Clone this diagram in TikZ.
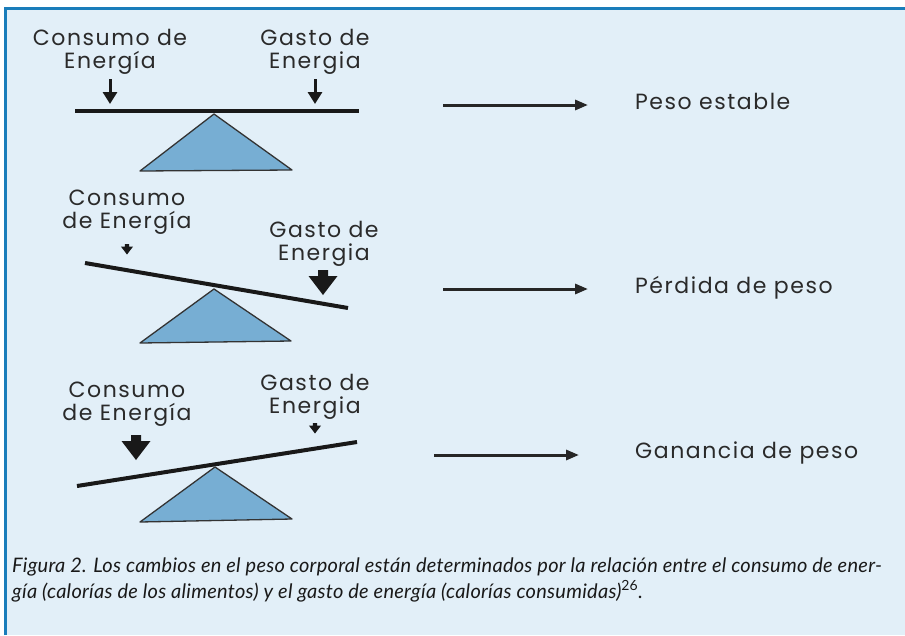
\documentclass[tikz,border=0pt]{standalone}
\usepackage{fontspec}
\setmainfont[LetterSpace=7]{Poppins}
\newfontfamily\piefont[LetterSpace=1.3]{Lato}
\usepackage{tikz}
\usetikzlibrary{arrows.meta, positioning}
\definecolor{fondo}{HTML}{E2EFF8}
\definecolor{marco}{HTML}{1A7DBA}
\definecolor{soporteazul}{HTML}{77AED3}
\definecolor{tinta}{HTML}{2A2A2A}
\tikzset{
  etiq/.style={anchor=base, align=center, text=tinta, inner sep=0pt,
    font=\fontsize{22}{23}\selectfont},
  resultado/.style={anchor=base west, text=tinta, inner sep=0pt,
    font=\fontsize{22}{23}\selectfont},
  viga/.style={line width=4pt, black!90},
  soporte/.style={fill=soporteazul, draw=black!80, line width=1.3pt, line join=round},
  flechita/.style={line width=3pt, black!90, -{Triangle[width=14pt,length=12pt]}},
  salida/.style={line width=3pt, black!85, -{Triangle[width=10pt,length=13pt]}},
  flechota/.pic={\fill[black!90] (-5,0) -- (5,0) -- (5,6) -- (14.5,6) -- (0,25)
    -- (-14.5,6) -- (-5,6) -- cycle;}
}

\begin{document}
\begin{tikzpicture}[x=1pt, y=-1pt]
\useasboundingbox (0,0) rectangle (905,635);
% fondo y marco
\fill[fondo] (5,8) rectangle (905,635);
\draw[marco, line width=3pt] (5.5,635) -- (5.5,8.5) -- (905,8.5);

% balanza en equilibrio
\node[etiq] (cons1) at (110,68) {Consumo de\\Energía};
\node[etiq] (gast1) at (315,68) {Gasto de\\Energia};
\coordinate (cons1a) at (110,79);
\coordinate (cons1b) at (110,104);
\coordinate (gast1a) at (315,79);
\coordinate (gast1b) at (315,104);
\draw[flechita] (cons1a) -- (cons1b);
\draw[flechita] (gast1a) -- (gast1b);
\draw[viga] (75,111) -- (359,111);
\filldraw[soporte] (214,114) -- (292,170) -- (140,171) -- cycle;
\coordinate (sal1a) at (443,105);
\coordinate (sal1b) at (588,105);
\draw[salida] (sal1a) -- (sal1b);
\node[resultado] (res1) at (635,109) {Peso estable};

% balanza inclinada a la derecha
\node[etiq] (cons2) at (127,228) {Consumo\\de Energía};
\node[etiq] (gast2) at (324,260) {Gasto de\\Energia};
\pic[scale=0.42] at (127,244) {flechota};
\pic at (323,270) {flechota};
\draw[viga] (85,263) -- (348,308);
\filldraw[soporte] (214,289) -- (291,341) -- (140,343) -- cycle;
\coordinate (sal2a) at (443,289);
\coordinate (sal2b) at (588,289);
\draw[salida] (sal2a) -- (sal2b);
\node[resultado] (res2) at (635,293) {Pérdida de peso};

% balanza inclinada a la izquierda
\node[etiq] (cons3) at (127,420) {Consumo\\de Energía};
\node[etiq] (gast3) at (315,413) {Gasto de\\Energia};
\pic at (136,435) {flechota};
\pic[scale=0.42] at (315,423) {flechota};
\draw[viga] (77,486) -- (357,442);
\filldraw[soporte] (215,467) -- (292,519) -- (140,522) -- cycle;
\coordinate (sal3a) at (434,455);
\coordinate (sal3b) at (579,455);
\draw[salida] (sal3a) -- (sal3b);
\node[resultado] (res3) at (635,458) {Ganancia de peso};

% pie de figura
\node[anchor=base west, inner sep=0pt, align=left, text=black!90,
  font=\piefont\itshape\fontsize{20}{26}\selectfont] (pie) at (12,598)
  {Figura 2. Los cambios en el peso corporal están determinados por la relación entre el consumo de ener-\\
   gía (calorías de los alimentos) y el gasto de energía (calorías consumidas)\textsuperscript{\upshape 26}.};
\end{tikzpicture}
\end{document}
